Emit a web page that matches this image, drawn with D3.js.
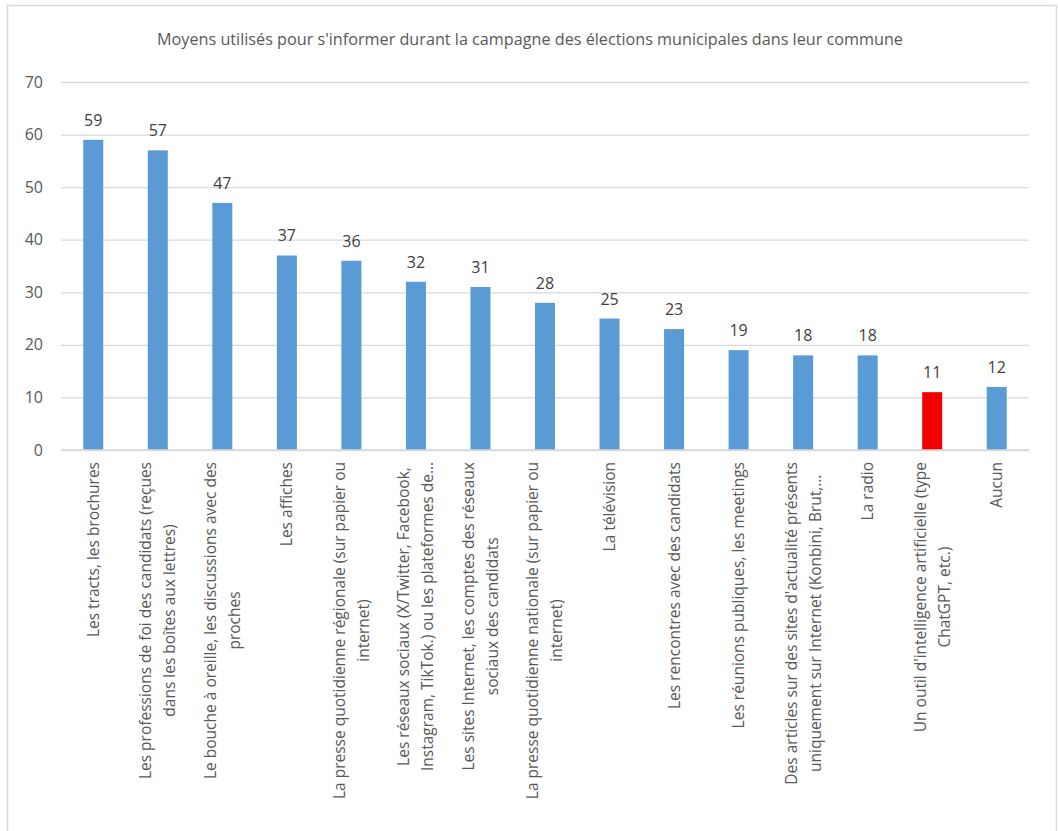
<!DOCTYPE html>
<html>
<head>
<meta charset="utf-8">
<script src="https://cdn.jsdelivr.net/npm/d3@7"></script>
<style>
  html, body { margin: 0; padding: 0; background: #fff; }
  svg { display: block; font-family: "Open Sans", "Noto Sans", sans-serif; }
</style>
</head>
<body>
<svg id="chart" width="1058" height="831"></svg>
<script>
// Chart title
const title = "Moyens utilisés pour s'informer durant la campagne des élections municipales dans leur commune";

// Category labels (line breaks where the axis label wraps)
const categories = [
  "Les tracts, les brochures",
  "Les professions de foi des candidats (reçues\ndans les boîtes aux lettres)",
  "Le bouche à oreille, les discussions avec des\nproches",
  "Les affiches",
  "La presse quotidienne régionale (sur papier ou\ninternet)",
  "Les réseaux sociaux (X/Twitter, Facebook,\nInstagram, TikTok.) ou les plateformes de…",
  "Les sites Internet, les comptes des réseaux\nsociaux des candidats",
  "La presse quotidienne nationale (sur papier ou\ninternet)",
  "La télévision",
  "Les rencontres avec des candidats",
  "Les réunions publiques, les meetings",
  "Des articles sur des sites d'actualité présents\nuniquement sur Internet (Konbini, Brut,…",
  "La radio",
  "Un outil d'intelligence artificielle (type\nChatGPT, etc.)",
  "Aucun"
];

// Percentages
const values = [59, 57, 47, 37, 36, 32, 31, 28, 25, 23, 19, 18, 18, 11, 12];

// Category drawn in the highlight colour
const highlighted = ["Un outil d'intelligence artificielle (type\nChatGPT, etc.)"];

// Y axis ticks
const yTicks = [0, 10, 20, 30, 40, 50, 60, 70];

const svg = d3.select("#chart");

// Outer chart frame
svg.append("rect")
  .attr("x", 7.5).attr("y", 5.5)
  .attr("width", 1049).attr("height", 840)
  .attr("fill", "#fff")
  .attr("stroke", "#D9D9D9")
  .attr("stroke-width", 1.5);

const plot = { left: 61, right: 1029, top: 82, bottom: 450 };

const x = d3.scaleBand()
  .domain(categories)
  .range([plot.left, plot.right])
  .paddingInner(0.69)
  .paddingOuter(0.345);

const y = d3.scaleLinear()
  .domain([0, 70])
  .range([plot.bottom, plot.top]);

// Title
svg.append("text")
  .attr("x", 530).attr("y", 45)
  .attr("text-anchor", "middle")
  .attr("font-size", 16.2)
  .attr("fill", "#595959")
  .text(title);

// Gridlines + y tick labels
const yAxis = d3.axisLeft(y)
  .tickValues(yTicks)
  .tickSize(-(plot.right - plot.left))
  .tickPadding(18)
  .tickFormat(d3.format("d"));

const gy = svg.append("g")
  .attr("transform", `translate(${plot.left},0)`)
  .call(yAxis);
gy.select(".domain").remove();
gy.selectAll(".tick line").attr("stroke", "#D9D9D9").attr("stroke-width", 1.3);
gy.selectAll(".tick text")
  .attr("font-size", 16)
  .attr("fill", "#595959")
  .attr("font-family", "'Open Sans', sans-serif");

// Bars
const data = categories.map((c, i) => ({ c, v: values[i] }));

svg.append("g")
  .selectAll("rect")
  .data(data)
  .join("rect")
  .attr("x", d => x(d.c))
  .attr("y", d => y(d.v))
  .attr("width", x.bandwidth())
  .attr("height", d => y(0) - y(d.v))
  .attr("fill", d => highlighted.includes(d.c) ? "#F00000" : "#5B9BD5");

// Value labels
svg.append("g")
  .selectAll("text")
  .data(data)
  .join("text")
  .attr("x", d => x(d.c) + x.bandwidth() / 2)
  .attr("y", d => y(d.v) - 14)
  .attr("text-anchor", "middle")
  .attr("font-size", 16)
  .attr("fill", "#404040")
  .text(d => d3.format("d")(d.v));

// X axis line
svg.append("line")
  .attr("x1", plot.left).attr("x2", plot.right)
  .attr("y1", y(0)).attr("y2", y(0))
  .attr("stroke", "#D9D9D9").attr("stroke-width", 1.5);

// Rotated, wrapped category labels
const labelTop = 462;
const lineGap = 24;
const gx = svg.append("g");
categories.forEach(c => {
  const lines = c.split("\n");
  const cx = x(c) + x.bandwidth() / 2;
  const g = gx.append("g").attr("transform", `translate(${cx},${labelTop}) rotate(-90)`);
  const t = g.selectAll("text")
    .data(lines)
    .join("text")
    .attr("y", (d, i) => (i - (lines.length - 1) / 2) * lineGap)
    .attr("dy", "0.35em")
    .attr("text-anchor", "middle")
    .attr("font-size", 15.5)
    .attr("fill", "#595959")
    .text(d => d);
  let maxW = 0;
  t.each(function () { maxW = Math.max(maxW, this.getComputedTextLength()); });
  t.attr("x", -maxW / 2);
});
</script>
</body>
</html>
